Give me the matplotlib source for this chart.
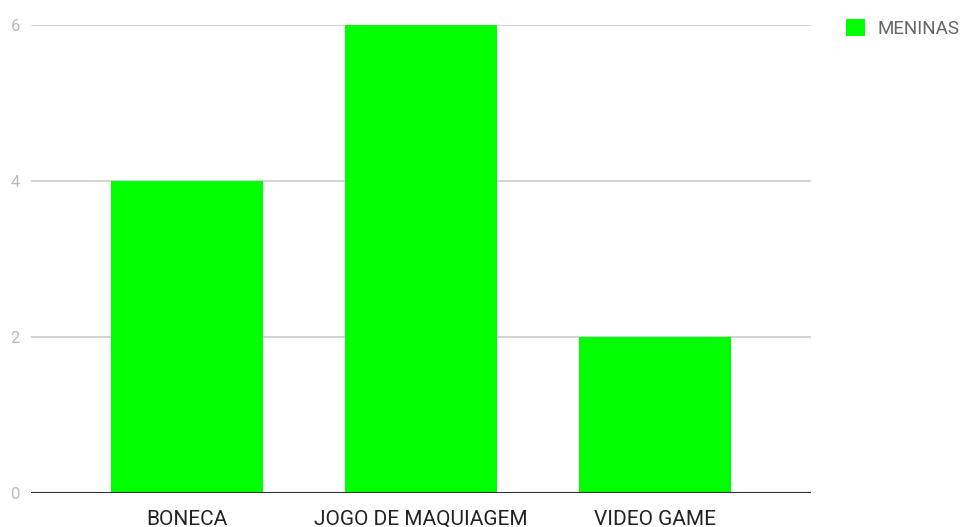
import matplotlib
matplotlib.use("Agg")
import matplotlib.pyplot as plt
from matplotlib.patches import Patch

plt.rcParams['font.family'] = ['Roboto', 'DejaVu Sans']

# dados
categorias = ["BONECA", "JOGO DE MAQUIAGEM", "VIDEO GAME"]
meninas = [4, 6, 2]
yticks = [0, 2, 4, 6]

fig = plt.figure(figsize=(9.67, 5.27), dpi=100)
ax = fig.add_axes([31/967, 34/527, 780/967, 468/527])

x = list(range(len(categorias)))
ax.bar(x, meninas, width=0.65, color="#00ff00", zorder=3)

ax.set_xlim(-0.667, 2.667)
ax.set_ylim(0, 6)
ax.set_yticks(yticks)
ax.set_xticks(x)
ax.set_xticklabels(categorias, fontsize=15, color="#222222")
ax.tick_params(axis='x', length=0, pad=12)
ax.tick_params(axis='y', length=0, pad=8, labelsize=12, labelcolor="#bbbbbb")

for y in yticks[1:]:
    ax.axhline(y, color="#cccccc", lw=1.2, zorder=1)
ax.axhline(0, color="#333333", lw=1.5, zorder=4)

for s in ax.spines.values():
    s.set_visible(False)

leg = fig.legend(handles=[Patch(facecolor="#00ff00", label="MENINAS")],
                 loc="upper left", bbox_to_anchor=(829/967, 1 - 2/527),
                 frameon=False, fontsize=13.5, handlelength=1.0, handleheight=1.0,
                 handletextpad=0.7)
for t in leg.get_texts():
    t.set_color("#666666")

fig.savefig("out.png", dpi=100)
